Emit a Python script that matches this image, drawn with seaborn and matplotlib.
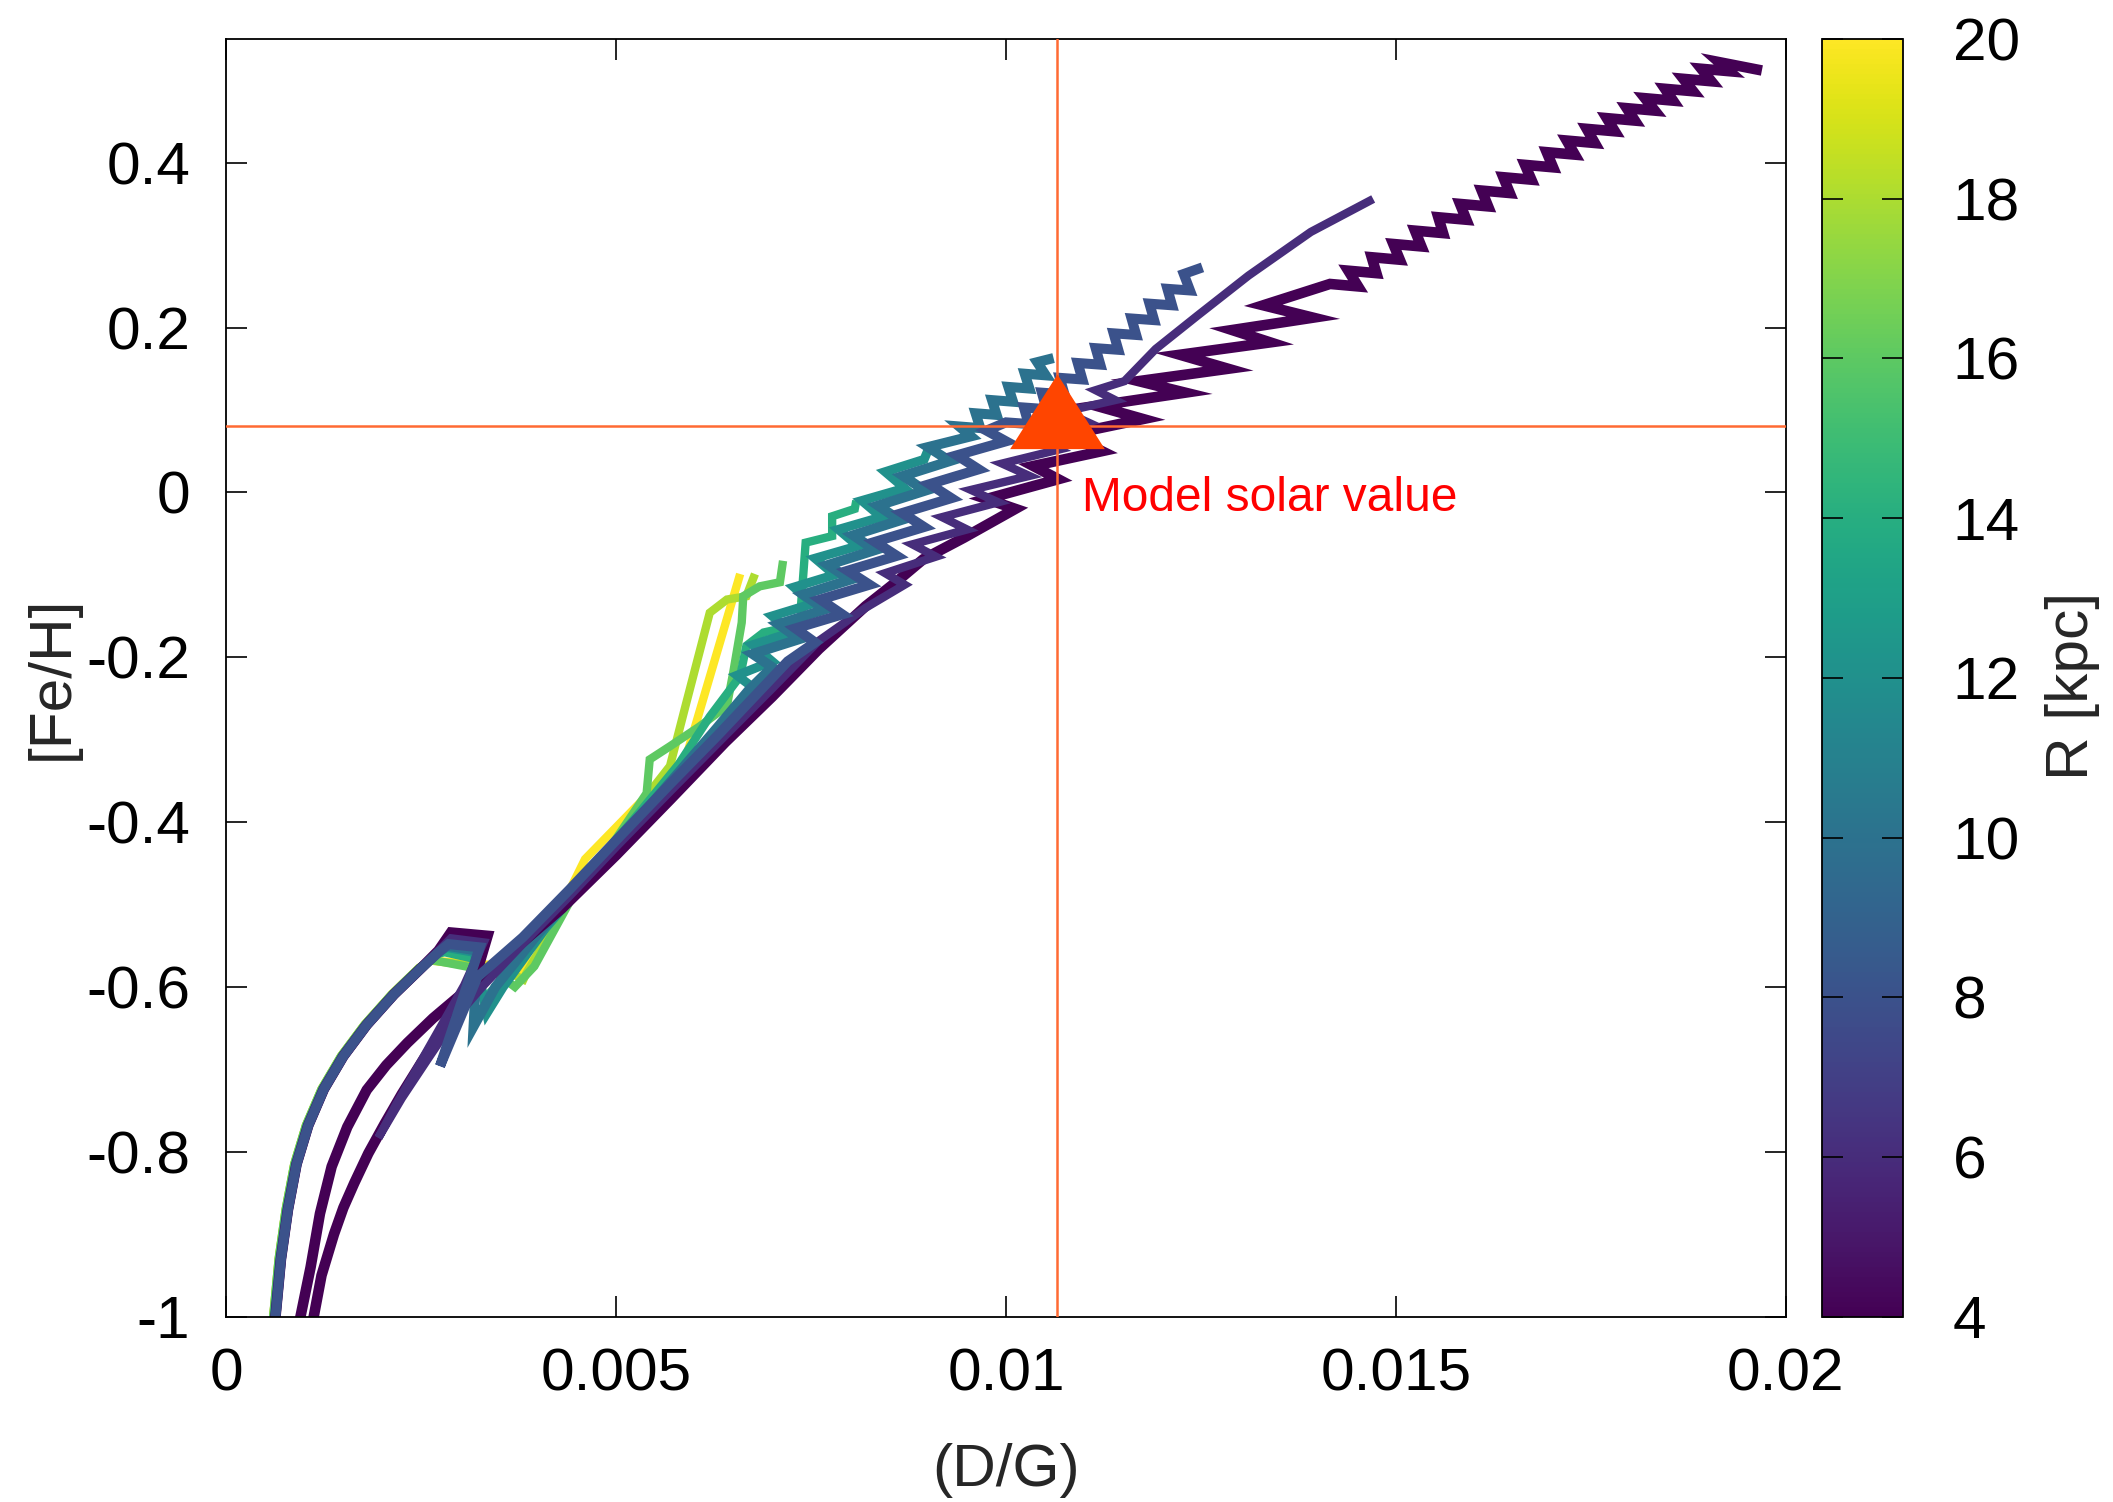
import matplotlib
matplotlib.use('Agg')
import matplotlib.pyplot as plt
import pandas as pd
import seaborn as sns
from matplotlib.path import Path
from matplotlib.colors import Normalize
from matplotlib.cm import ScalarMappable

# ---------------- data ----------------
r4_x = [0.00050, 0.00063, 0.00070, 0.00079, 0.00090, 0.00105, 0.00125, 0.00150, 0.00180,
        0.00215, 0.00250, 0.00272, 0.00288, 0.00335,
        0.00325, 0.00305, 0.00280, 0.00250, 0.00225, 0.00203, 0.00182, 0.00164, 0.00150,
        0.00138, 0.00122, 0.00112, 0.00088, 0.00069,
        0.00095, 0.00108, 0.00120, 0.00135, 0.00155, 0.00180, 0.00205, 0.00232, 0.00265,
        0.00300, 0.00360, 0.00430, 0.00500, 0.00570,
        0.00640, 0.00700, 0.00760, 0.00820, 0.00860, 0.00894, 0.00946,
        0.01012, 0.00975, 0.01067, 0.01035, 0.01123, 0.01080, 0.01176, 0.01116, 0.01230,
        0.01170, 0.01285, 0.01223, 0.01339, 0.01290, 0.01394, 0.01330,
        0.014156, 0.014516, 0.014391, 0.014751, 0.014691, 0.015051, 0.014968, 0.015328,
        0.015246, 0.015606, 0.015545, 0.015905, 0.015824, 0.016184, 0.016102, 0.016462,
        0.016379, 0.016739, 0.016657, 0.017017, 0.016936, 0.017296, 0.017192, 0.017552,
        0.017449, 0.017809, 0.017706, 0.018066, 0.017962, 0.018322, 0.018196, 0.018556,
        0.018453, 0.018813, 0.018688, 0.019048, 0.018919, 0.019279, 0.019145, 0.019696]
r4_y = [-1.120, -1.000, -0.930, -0.870, -0.815, -0.768, -0.724, -0.684, -0.646,
        -0.609, -0.577, -0.556, -0.534, -0.538,
        -0.570, -0.610, -0.648, -0.692, -0.730, -0.766, -0.802, -0.838, -0.868,
        -0.900, -0.950, -1.000, -1.120, -1.120,
        -1.000, -0.940, -0.875, -0.818, -0.770, -0.725, -0.695, -0.668, -0.638,
        -0.610, -0.562, -0.505, -0.440, -0.372,
        -0.303, -0.248, -0.190, -0.138, -0.108, -0.081, -0.055,
        -0.020, -0.008, 0.016, 0.032, 0.050, 0.070, 0.089, 0.105, 0.121,
        0.135, 0.150, 0.167, 0.182, 0.197, 0.212, 0.227,
        0.2529, 0.2499, 0.2690, 0.2660, 0.2853, 0.2823, 0.3014, 0.2984,
        0.3176, 0.3146, 0.3338, 0.3308, 0.3500, 0.3470, 0.3662, 0.3632,
        0.3824, 0.3794, 0.3974, 0.3944, 0.4128, 0.4098, 0.4269, 0.4239,
        0.4411, 0.4381, 0.4541, 0.4511, 0.4662, 0.4632, 0.4783, 0.4753,
        0.4897, 0.4867, 0.5018, 0.4988, 0.5140, 0.5110, 0.5221, 0.5119]

r6_x = [0.00050, 0.00063, 0.00070, 0.00079, 0.00090, 0.00105, 0.00125, 0.00150, 0.00180,
        0.00215, 0.00250, 0.00272, 0.00288, 0.00330,
        0.00305, 0.00275, 0.00245, 0.00218, 0.00195, 0.00225, 0.00258, 0.00295, 0.00330,
        0.00380, 0.00440, 0.00500, 0.00570, 0.00640, 0.00700, 0.00760, 0.00820,
        0.00870, 0.00845, 0.00910, 0.00880, 0.00950, 0.00918, 0.00990, 0.00955, 0.01030,
        0.00995, 0.01068, 0.01035, 0.01105, 0.01075, 0.01140, 0.01115, 0.01152,
        0.01192, 0.01245, 0.01311, 0.01391, 0.01471]
r6_y = [-1.120, -1.000, -0.930, -0.870, -0.815, -0.768, -0.724, -0.684, -0.646,
        -0.609, -0.577, -0.556, -0.541, -0.546,
        -0.598, -0.648, -0.698, -0.742, -0.783, -0.735, -0.688, -0.636, -0.598,
        -0.548, -0.490, -0.430, -0.362, -0.295, -0.238, -0.180, -0.140,
        -0.112, -0.098, -0.078, -0.063, -0.045, -0.030, -0.012, 0.003, 0.020,
        0.035, 0.052, 0.067, 0.085, 0.098, 0.112, 0.124, 0.135,
        0.174, 0.214, 0.263, 0.316, 0.356]

r8_x = [0.00050, 0.00063, 0.00070, 0.00079, 0.00090, 0.00105, 0.00125, 0.00150, 0.00180,
        0.00215, 0.00250, 0.00272, 0.00285, 0.00325,
        0.00274, 0.00322,
        0.00380, 0.00440, 0.00500, 0.00570, 0.00630, 0.00680, 0.00720,
        0.00755, 0.00730, 0.00790, 0.00762, 0.00825, 0.00797, 0.00860, 0.00832, 0.00895,
        0.00867, 0.00930, 0.00902, 0.00965, 0.00937, 0.01000, 0.00975,
        0.01000, 0.01029, 0.01023, 0.01052, 0.01046, 0.01075, 0.01069, 0.01098, 0.01092,
        0.01121, 0.01115, 0.01144, 0.01138, 0.01167, 0.01161, 0.01190, 0.01184, 0.01213,
        0.01207, 0.01236, 0.01228, 0.01252]
r8_y = [-1.120, -1.000, -0.930, -0.870, -0.815, -0.768, -0.724, -0.684, -0.646,
        -0.609, -0.577, -0.558, -0.548, -0.552,
        -0.696, -0.588,
        -0.540, -0.482, -0.422, -0.353, -0.295, -0.245, -0.205,
        -0.182, -0.165, -0.148, -0.130, -0.112, -0.095, -0.077, -0.060, -0.042,
        -0.025, -0.007, 0.010, 0.028, 0.045, 0.062, 0.075,
        0.085, 0.083, 0.103, 0.101, 0.121, 0.119, 0.139, 0.137, 0.157,
        0.155, 0.175, 0.173, 0.193, 0.191, 0.211, 0.209, 0.229, 0.227,
        0.247, 0.245, 0.265, 0.273]

r10_x = [0.00050, 0.00063, 0.00070, 0.00079, 0.00090, 0.00105, 0.00125, 0.00150, 0.00180,
         0.00215, 0.00250, 0.00272, 0.00283, 0.00322,
         0.00317, 0.00345,
         0.00400, 0.00460, 0.00520, 0.00580, 0.00630, 0.00670,
         0.00700, 0.00675, 0.00735, 0.00708, 0.00768, 0.00740, 0.00800, 0.00772, 0.00832,
         0.00804, 0.00864, 0.00836, 0.00896, 0.00868, 0.00928, 0.00900, 0.00955,
         0.00940, 0.00967, 0.00961, 0.00988, 0.00982, 0.01009, 0.01003, 0.01030, 0.01024,
         0.01051, 0.01040, 0.01061]
r10_y = [-1.120, -1.000, -0.930, -0.870, -0.815, -0.768, -0.724, -0.684, -0.646,
         -0.609, -0.577, -0.558, -0.550, -0.556,
         -0.648, -0.600,
         -0.535, -0.470, -0.405, -0.340, -0.285, -0.240,
         -0.212, -0.196, -0.178, -0.160, -0.142, -0.124, -0.106, -0.088, -0.070,
         -0.052, -0.034, -0.016, 0.002, 0.020, 0.038, 0.055, 0.068,
         0.080, 0.078, 0.096, 0.094, 0.112, 0.110, 0.128, 0.126, 0.144,
         0.142, 0.158, 0.163]

r12_x = [0.00050, 0.00063, 0.00070, 0.00079, 0.00090, 0.00105, 0.00125, 0.00150, 0.00180,
         0.00215, 0.00250, 0.00272, 0.00282, 0.00318,
         0.00334, 0.00355,
         0.00410, 0.00470, 0.00530, 0.00580, 0.00620, 0.00650,
         0.00680, 0.00655, 0.00700, 0.00675, 0.00725, 0.00700, 0.00752, 0.00728, 0.00780,
         0.00755, 0.00810, 0.00785, 0.00840, 0.00815, 0.00870, 0.00845, 0.00895, 0.00902]
r12_y = [-1.120, -1.000, -0.930, -0.870, -0.815, -0.768, -0.724, -0.684, -0.646,
         -0.609, -0.577, -0.558, -0.552, -0.558,
         -0.632, -0.600,
         -0.528, -0.462, -0.398, -0.345, -0.300, -0.268,
         -0.240, -0.222, -0.205, -0.185, -0.170, -0.150, -0.135, -0.115, -0.100,
         -0.080, -0.065, -0.045, -0.030, -0.010, 0.005, 0.025, 0.040, 0.056]

r14_x = [0.00048, 0.00061, 0.00068, 0.00077, 0.00088, 0.00103, 0.00123, 0.00148, 0.00178,
         0.00213, 0.00248, 0.00270, 0.00280, 0.00318,
         0.00330, 0.00355,
         0.00410, 0.00470, 0.00530, 0.00580, 0.00620, 0.00659, 0.00667, 0.00689, 0.00727,
         0.00740, 0.00737, 0.00743, 0.00777, 0.00777, 0.00806, 0.00808]
r14_y = [-1.120, -1.000, -0.930, -0.870, -0.815, -0.768, -0.724, -0.684, -0.646,
         -0.609, -0.577, -0.560, -0.558, -0.566,
         -0.615, -0.590,
         -0.525, -0.455, -0.388, -0.330, -0.272, -0.223, -0.186, -0.170, -0.162,
         -0.154, -0.138, -0.061, -0.053, -0.029, -0.020, -0.010]

r16_x = [0.00047, 0.00060, 0.00067, 0.00076, 0.00087, 0.00102, 0.00122, 0.00147, 0.00177,
         0.00212, 0.00247, 0.00262, 0.00345, 0.00370,
         0.00395, 0.00450, 0.00500, 0.00539, 0.00543, 0.00569, 0.00607, 0.00642, 0.00650,
         0.00661, 0.00663, 0.00684, 0.00710, 0.00714]
r16_y = [-1.120, -1.000, -0.930, -0.870, -0.815, -0.768, -0.724, -0.684, -0.646,
         -0.609, -0.577, -0.567, -0.582, -0.600,
         -0.575, -0.480, -0.420, -0.365, -0.324, -0.308, -0.284, -0.259, -0.219,
         -0.158, -0.126, -0.114, -0.109, -0.083]

r18_x = [0.00047, 0.00060, 0.00067, 0.00076, 0.00087, 0.00102, 0.00122, 0.00147, 0.00177,
         0.00212, 0.00247, 0.00262, 0.00355, 0.00381,
         0.00385, 0.00445, 0.00490, 0.00535, 0.00569, 0.00590, 0.00620, 0.00642, 0.00667,
         0.00678]
r18_y = [-1.120, -1.000, -0.930, -0.870, -0.815, -0.768, -0.724, -0.684, -0.646,
         -0.609, -0.577, -0.568, -0.579, -0.591,
         -0.583, -0.486, -0.440, -0.373, -0.332, -0.255, -0.146, -0.130, -0.126,
         -0.099]

r20_x = [0.00047, 0.00060, 0.00067, 0.00076, 0.00087, 0.00102, 0.00122, 0.00147, 0.00177,
         0.00212, 0.00247, 0.00262, 0.00350, 0.00375,
         0.00400, 0.00460, 0.00526, 0.00590, 0.00659]
r20_y = [-1.120, -1.000, -0.930, -0.870, -0.815, -0.768, -0.724, -0.684, -0.646,
         -0.609, -0.577, -0.568, -0.574, -0.588,
         -0.560, -0.445, -0.381, -0.320, -0.099]

tracks = {4: (r4_x, r4_y), 6: (r6_x, r6_y), 8: (r8_x, r8_y), 10: (r10_x, r10_y),
          12: (r12_x, r12_y), 14: (r14_x, r14_y), 16: (r16_x, r16_y),
          18: (r18_x, r18_y), 20: (r20_x, r20_y)}
draw_order = [20, 18, 16, 14, 12, 10, 4, 6, 8]
line_widths = {4: 7.6, 6: 6.0, 8: 7.2, 10: 7.2, 12: 6.6, 14: 6.0, 16: 6.0, 18: 6.0, 20: 6.0}

x_ticks = [0, 0.005, 0.01, 0.015, 0.02]
x_tick_labels = ['0', '0.005', '0.01', '0.015', '0.02']
y_ticks = [-1, -0.8, -0.6, -0.4, -0.2, 0, 0.2, 0.4]
y_tick_labels = ['-1', '-0.8', '-0.6', '-0.4', '-0.2', '0', '0.2', '0.4']
cbar_ticks = [4, 6, 8, 10, 12, 14, 16, 18, 20]
cbar_tick_labels = ['4', '6', '8', '10', '12', '14', '16', '18', '20']
solar_x = 0.01066
solar_y = 0.08
solar_label = 'Model solar value'
solar_label_x = 0.01097
solar_label_y = -0.0225

# ---------------- styling ----------------
sns.set_theme(style='white')
plt.rcParams['font.family'] = ['Liberation Sans', 'DejaVu Sans']
plt.rcParams['axes.unicode_minus'] = False

FS = 43.5

fig = plt.figure(figsize=(21.13, 15.02), dpi=100)
ax = fig.add_axes([0.10715, 0.12344, 0.73790, 0.85054])
ax.set_axisbelow(False)
cmap = plt.get_cmap('viridis')
norm = Normalize(vmin=4, vmax=20)

for R in draw_order:
    xs, ys = tracks[R]
    df = pd.DataFrame({'x': xs, 'y': ys})
    sns.lineplot(data=df, x='x', y='y', sort=False, estimator=None,
                 color=cmap(norm(R)), lw=line_widths[R], ax=ax, legend=False,
                 solid_joinstyle='miter', solid_capstyle='butt')

ax.axvline(solar_x, color='#ff6a33', lw=1.8, zorder=5)
ax.axhline(solar_y, color='#ff6a33', lw=1.8, zorder=5)
tri = Path([(0, 1.10), (-1, -0.478), (1, -0.478), (0, 1.10)],
           [Path.MOVETO, Path.LINETO, Path.LINETO, Path.CLOSEPOLY])
ax.plot([solar_x], [solar_y], marker=tri, ms=75, color='#ff4500', mew=0,
        ls='none', zorder=6)
ax.text(solar_label_x, solar_label_y, solar_label, color='#ff0000', fontsize=34.5,
        ha='left', va='baseline', zorder=7)

ax.set_xlim(0, 0.02)
ax.set_ylim(-1, 0.55)
ax.set_xticks(x_ticks)
ax.set_xticklabels(x_tick_labels)
ax.set_yticks(y_ticks)
ax.set_yticklabels(y_tick_labels)
ax.set_xlabel('')
ax.set_ylabel('')
ax.tick_params(direction='in', length=15, width=1.2, top=True, right=True,
               bottom=True, left=True, labelsize=FS, colors='black')
ax.tick_params(axis='x', pad=22)
ax.tick_params(axis='y', pad=26)
for s in ax.spines.values():
    s.set_visible(True)
    s.set_color('black')
    s.set_linewidth(1.3)

fig.text(0.0248, 0.549, '[Fe/H]', rotation=90, ha='center', va='center', fontsize=FS)
fig.text(0.476, 0.021, '(D/G)', ha='center', va='center', fontsize=FS)

cax = fig.add_axes([0.8623, 0.12344, 0.03824, 0.85054])
sm = ScalarMappable(norm=norm, cmap=cmap)
sm.set_array([])
cb = fig.colorbar(sm, cax=cax)
cax.set_axisbelow(False)
cb.set_ticks(cbar_ticks)
cb.set_ticklabels(cbar_tick_labels)
cax.tick_params(direction='in', length=15, width=1.2, left=True, right=True,
                labelleft=False, labelright=True, labelsize=FS, pad=36, colors='black')
cb.outline.set_linewidth(1.3)
cb.outline.set_edgecolor('black')
fig.text(0.981, 0.543, 'R [kpc]', rotation=90, ha='center', va='center', fontsize=FS)

fig.savefig('out.png', dpi=100)
